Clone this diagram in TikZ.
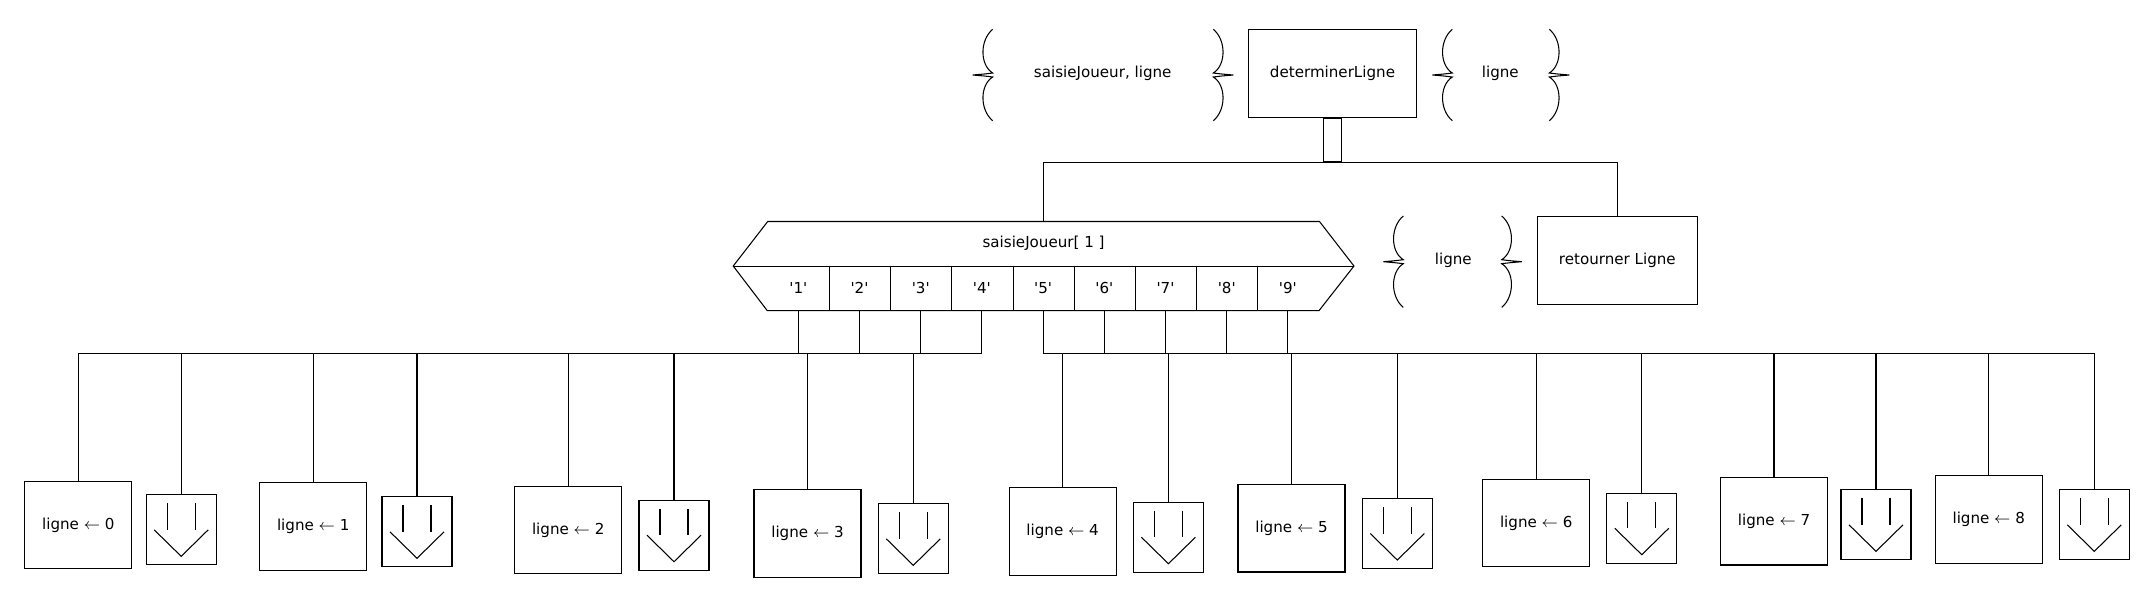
\documentclass[tikz,border=0pt]{standalone}
\usepackage{fontspec}
\setmainfont{DejaVu Sans}
\usetikzlibrary{calc}

\begin{document}
\begin{tikzpicture}[x=0.02cm, y=-0.02cm, line width=0.6pt,
    every node/.style={font=\fontsize{8.6}{10.3}\selectfont, inner sep=0pt},
    boite/.style={draw, minimum width=2.14cm, minimum height=1.75cm},
    sortie/.style={draw, minimum width=1.4cm, minimum height=1.4cm},
    cellule/.style={minimum width=1.224cm, minimum height=0.87cm},
    accolade/.pic={
      \draw (0,-45.7) .. controls (-13,-35) and (-13,-10) .. (0,-2)
        .. controls (-8,-1) .. (-20,0) .. controls (-8,1) .. (0,2)
        .. controls (-13,10) and (-13,35) .. (0,45.7);
    }]

\useasboundingbox (0,0) rectangle (2148,600);

% module
\node[draw, minimum width=3.35cm, minimum height=1.75cm] (determ) at (1332.5,73.5) {determinerLigne};
\node[draw, minimum width=0.35cm, minimum height=0.87cm, anchor=north] (seq) at (determ.south) {};
\pic at (992.7,75) {accolade};
\node (entree) at (1102.7,73.3) {saisieJoueur, ligne};
\pic[xscale=-1] at (1213.3,75) {accolade};
\pic at (1452.3,75) {accolade};
\node (resultat) at (1500.3,73) {ligne};
\pic[xscale=-1] at (1549.3,75) {accolade};

% selon saisieJoueur[1]
\node[minimum width=11.016cm, minimum height=0.87cm] (sel) at (1043.6,243.75) {saisieJoueur[ 1 ]};
\foreach \k in {1,...,9}{
  \node[cellule, anchor=north] (c\k) at ($(sel.south west)+(61.2*\k-30.6,0)$)
    {\textquotesingle\k\textquotesingle};
}
\draw (sel.north west) -- (sel.north east) -- ($(sel.south east)+(34.5,0)$)
  -- (c9.south east) -- (c1.south west) -- ($(sel.south west)+(-34.5,0)$) -- cycle;
\draw ($(sel.south west)+(-34.5,0)$) -- ($(sel.south east)+(34.5,0)$);
\foreach \k in {1,...,8}{
  \draw (c\k.north east) -- (c\k.south east);
}

% retour
\node[draw, minimum width=3.21cm, minimum height=1.75cm] (ret) at (1617.3,260.3) {retourner Ligne};
\pic at (1403.3,261.7) {accolade};
\node (locale) at (1453.3,260) {ligne};
\pic[xscale=-1] at (1501.7,261.7) {accolade};

\draw (sel.north) |- (seq.south) -| (ret.north);

% branches
\foreach \k/\xl/\yl/\xa/\ya in {0/78.3/480.7/181.2/494.3, 1/313.2/482.3/417/496.3,
    2/568.2/485.7/674/499.7, 3/807.5/489.3/913.3/503.3, 4/1062.6/487.3/1168.4/501.7,
    5/1291.5/484/1397.3/498, 6/1536.2/478.7/1641.8/492.7, 7/1774/477/1876/489.3,
    8/1988.7/475.3/2094.3/489.3}{
  \node[boite, anchor=north] (l\k) at (\xl,\yl) {ligne $\leftarrow$ \k};
  \node[sortie, anchor=north] (a\k) at (\xa,\ya) {};
  \draw ($(a\k)+(-14,-26.5)$) -- ++(0,26.5) ($(a\k)+(14,-26.5)$) -- ++(0,26.5);
  \draw ($(a\k)+(-27,0)$) -- ($(a\k)+(0,26.5)$) -- ($(a\k)+(27,0)$);
}

% bus
\coordinate (busG) at (78.3,353.3);
\coordinate (busD) at (2094.3,353.3);
\draw (c4.south) |- (busG);
\draw (c5.south) |- (busD);
\foreach \k in {1,2,3}{
  \draw (c\k.south) -- (c\k.south |- busG);
}
\foreach \k in {6,...,9}{
  \draw (c\k.south) -- (c\k.south |- busD);
}
\foreach \k in {0,...,3}{
  \draw (l\k.north) -- (l\k.north |- busG);
  \draw (a\k.north) -- (a\k.north |- busG);
}
\foreach \k in {4,...,8}{
  \draw (l\k.north) -- (l\k.north |- busD);
  \draw (a\k.north) -- (a\k.north |- busD);
}

\end{tikzpicture}
\end{document}
